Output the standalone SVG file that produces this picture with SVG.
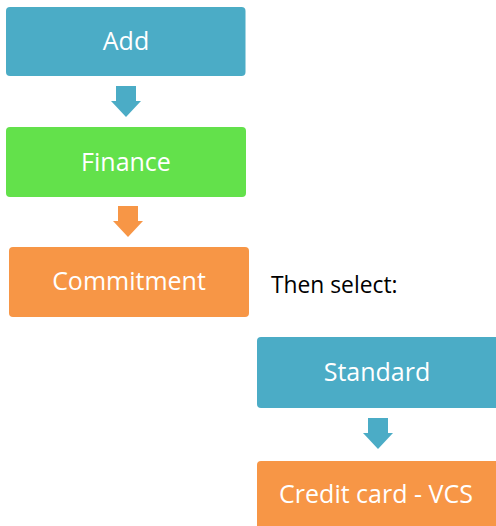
<svg xmlns="http://www.w3.org/2000/svg" width="496" height="526" viewBox="0 0 496 526">
  <style>
    .box { stroke: none; }
    .blue { fill: #4BACC6; }
    .green { fill: #63E14B; }
    .orange { fill: #F79646; }
    .label { font-family: "Open Sans", "Liberation Sans", sans-serif; font-size: 25px; fill: #FFFFFF; text-anchor: middle; }
    .note { font-family: "Open Sans", "Liberation Sans", sans-serif; font-size: 22.8px; fill: #000000; }
  </style>
  <defs>
    <!-- block arrow pointing down, origin at top-centre of the shaft -->
    <path id="down-arrow" d="M -10 0 H 10 V 15 H 15 L 0 31 L -15 15 H -10 Z"/>
  </defs>
  <rect width="496" height="526" fill="#FFFFFF"/>

  <g id="node-add">
    <rect class="box blue" x="6" y="7" width="239.5" height="69" rx="4"/>
    <text class="label" x="126" y="50">Add</text>
  </g>
  <g id="node-finance">
    <rect class="box green" x="6" y="127" width="240" height="70" rx="4"/>
    <text class="label" x="126" y="171">Finance</text>
  </g>
  <g id="node-commitment">
    <rect class="box orange" x="9" y="247" width="240" height="70" rx="4"/>
    <text class="label" x="129" y="290">Commitment</text>
  </g>
  <g id="note-then-select">
    <text class="note" x="271" y="293">Then select:</text>
  </g>
  <g id="node-standard">
    <rect class="box blue" x="257" y="337" width="243" height="71" rx="4"/>
    <text class="label" x="377" y="381">Standard</text>
  </g>
  <g id="node-credit-card">
    <rect class="box orange" x="257" y="461" width="243" height="70" rx="4"/>
    <text class="label" x="376" y="503">Credit card - VCS</text>
  </g>

  <g id="connectors">
    <use href="#down-arrow" class="blue" x="126" y="86"/>
    <use href="#down-arrow" class="orange" x="128" y="206"/>
    <use href="#down-arrow" class="blue" x="378" y="418"/>
  </g>
</svg>
